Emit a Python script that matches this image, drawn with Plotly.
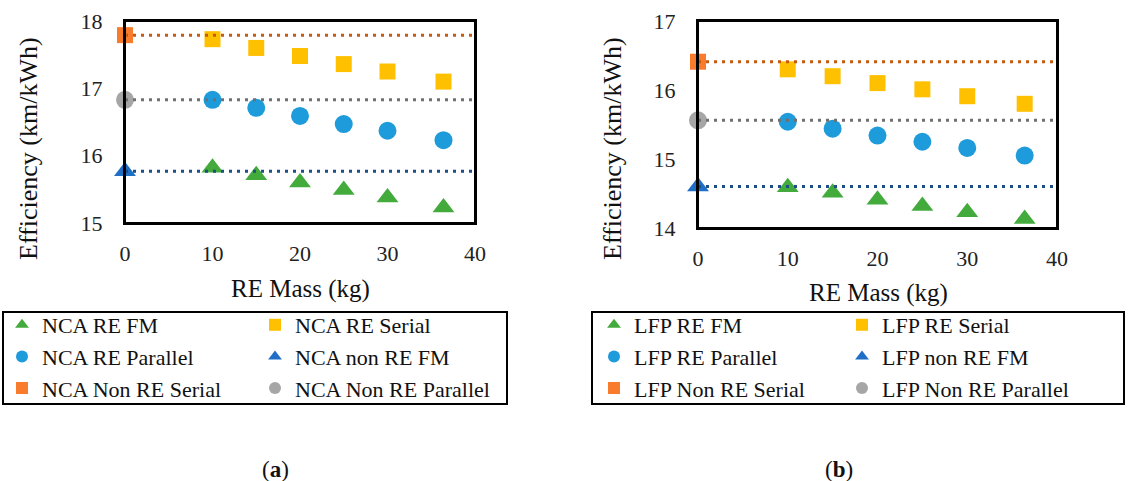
import plotly.graph_objects as go

W, H = 1129, 481

# ---------------- data ----------------
re_mass = [10, 15, 20, 25, 30, 36.4]
non_re_mass = [0]

nca_re_fm = [15.82, 15.71, 15.60, 15.49, 15.38, 15.23]
nca_re_serial = [17.73, 17.60, 17.48, 17.36, 17.25, 17.10]
nca_re_parallel = [16.83, 16.71, 16.59, 16.47, 16.37, 16.23]
nca_non_fm = [15.77]
nca_non_serial = [17.79]
nca_non_parallel = [16.83]

lfp_re_fm = [14.59, 14.51, 14.41, 14.32, 14.23, 14.13]
lfp_re_serial = [16.30, 16.20, 16.10, 16.01, 15.91, 15.80]
lfp_re_parallel = [15.54, 15.44, 15.34, 15.25, 15.16, 15.05]
lfp_non_fm = [14.60]
lfp_non_serial = [16.41]
lfp_non_parallel = [15.56]

x_range = [0, 40]
nca_y_range = [15, 18]
lfp_y_range = [14, 17]

# ---------------- styles ----------------
FONT = "Liberation Serif"
C_GREEN = "#43AB3C"
C_YELLOW = "#FFC000"
C_BLUE = "#1E9BDA"
C_DBLUE = "#1F6FC6"
C_ORANGE = "#F97C2C"
C_GRAY = "#A6A6A6"
L_ORANGE = "#C55A11"
L_GRAY = "#707070"
L_BLUE = "#1D4E86"

# panel geometry in pixels (left, right, top, bottom)
PANEL_A = (125, 475, 21, 223)
PANEL_B = (698, 1057, 21, 228)

def px_x(p):
    return p / W

def px_y(p):
    return 1 - p / H

fig = go.Figure()

def add_panel(prefix, xa, ya, re_fm, re_ser, re_par, n_fm, n_ser, n_par, lg1, lg2):
    common = dict(mode="markers", xaxis=xa, yaxis=ya, cliponaxis=False)
    fig.add_trace(go.Scatter(x=re_mass, y=re_fm, name=f"{prefix} RE FM", legend=lg1,
                             marker=dict(symbol="triangle-up", size=19, color=C_GREEN), **common))
    fig.add_trace(go.Scatter(x=re_mass, y=re_par, name=f"{prefix} RE Parallel", legend=lg1,
                             marker=dict(symbol="circle", size=18, color=C_BLUE), **common))
    fig.add_trace(go.Scatter(x=non_re_mass, y=n_ser, name=f"{prefix} Non RE Serial", legend=lg1,
                             marker=dict(symbol="square", size=16, color=C_ORANGE), **common))
    fig.add_trace(go.Scatter(x=re_mass, y=re_ser, name=f"{prefix} RE Serial", legend=lg2,
                             marker=dict(symbol="square", size=16, color=C_YELLOW), **common))
    fig.add_trace(go.Scatter(x=non_re_mass, y=n_fm, name=f"{prefix} non RE FM", legend=lg2,
                             marker=dict(symbol="triangle-up", size=19, color=C_DBLUE), **common))
    fig.add_trace(go.Scatter(x=non_re_mass, y=n_par, name=f"{prefix} Non RE Parallel", legend=lg2,
                             marker=dict(symbol="circle", size=18, color=C_GRAY), **common))
    axsuffix = xa[1:]
    for val, col in ((n_ser[0], L_ORANGE), (n_par[0], L_GRAY), (n_fm[0], L_BLUE)):
        fig.add_shape(type="line", xref=f"x{axsuffix} domain", yref=ya, x0=0, x1=1,
                      y0=val, y1=val, layer="above",
                      line=dict(color=col, width=3, dash="3px,5px"))

add_panel("NCA", "x", "y", nca_re_fm, nca_re_serial, nca_re_parallel,
          nca_non_fm, nca_non_serial, nca_non_parallel, "legend", "legend2")
add_panel("LFP", "x2", "y2", lfp_re_fm, lfp_re_serial, lfp_re_parallel,
          lfp_non_fm, lfp_non_serial, lfp_non_parallel, "legend3", "legend4")

# transparent outside ticks push the labels away from the frame
axis_common = dict(
    showline=True, linecolor="#000000", linewidth=2, mirror=True,
    ticks="outside", tickwidth=1, tickcolor="rgba(0,0,0,0)",
    showgrid=False, zeroline=False,
    tickfont=dict(family=FONT, size=22, color="#222"),
)

fig.update_layout(
    template="none",
    width=W, height=H,
    margin=dict(l=0, r=0, t=0, b=0),
    font=dict(family=FONT, color="#111"),
    xaxis=dict(domain=[px_x(PANEL_A[0]), px_x(PANEL_A[1])], range=x_range, dtick=10,
               anchor="y", ticklen=10, **axis_common),
    yaxis=dict(domain=[px_y(PANEL_A[3]), px_y(PANEL_A[2])], range=nca_y_range, dtick=1,
               anchor="x", ticklen=16, **axis_common),
    xaxis2=dict(domain=[px_x(PANEL_B[0]), px_x(PANEL_B[1])], range=x_range, dtick=10,
                anchor="y2", ticklen=10, **axis_common),
    yaxis2=dict(domain=[px_y(PANEL_B[3]), px_y(PANEL_B[2])], range=lfp_y_range, dtick=1,
                anchor="x2", ticklen=16, **axis_common),
)

leg_common = dict(orientation="v", xanchor="left", yanchor="top", bgcolor="rgba(0,0,0,0)",
                  borderwidth=0, font=dict(family=FONT, size=22, color="#111"),
                  tracegroupgap=0, itemsizing="constant")
fig.update_layout(
    legend=dict(x=px_x(2), y=px_y(304), **leg_common),
    legend2=dict(x=px_x(255), y=px_y(304), **leg_common),
    legend3=dict(x=px_x(594), y=px_y(304), **leg_common),
    legend4=dict(x=px_x(842), y=px_y(304), **leg_common),
)

# plot-area frames
for l, r, t, b in (PANEL_A, PANEL_B):
    fig.add_shape(type="rect", xref="paper", yref="paper",
                  x0=px_x(l), x1=px_x(r), y0=px_y(b), y1=px_y(t),
                  line=dict(color="black", width=2), fillcolor="rgba(0,0,0,0)")
# legend frames
for x0, x1 in ((3, 507), (592, 1124)):
    fig.add_shape(type="rect", xref="paper", yref="paper",
                  x0=px_x(x0), x1=px_x(x1), y0=px_y(404), y1=px_y(312),
                  line=dict(color="black", width=2), fillcolor="rgba(0,0,0,0)")

def ann(text, x, y, size, angle=0):
    fig.add_annotation(text=text, x=px_x(x), y=px_y(y), xref="paper", yref="paper",
                       showarrow=False, textangle=angle, xanchor="center", yanchor="middle",
                       font=dict(family=FONT, size=size, color="#111"))

ann("Efficiency (km/kWh)", 29, 149, 26, -90)
ann("RE Mass (kg)", 300, 289, 25)
ann("Efficiency (km/kWh)", 613, 149, 26, -90)
ann("RE Mass (kg)", 878, 293, 25)
ann("(<b>a</b>)", 275, 469, 23)
ann("(<b>b</b>)", 839, 469, 23)

fig.write_html("out.html")
